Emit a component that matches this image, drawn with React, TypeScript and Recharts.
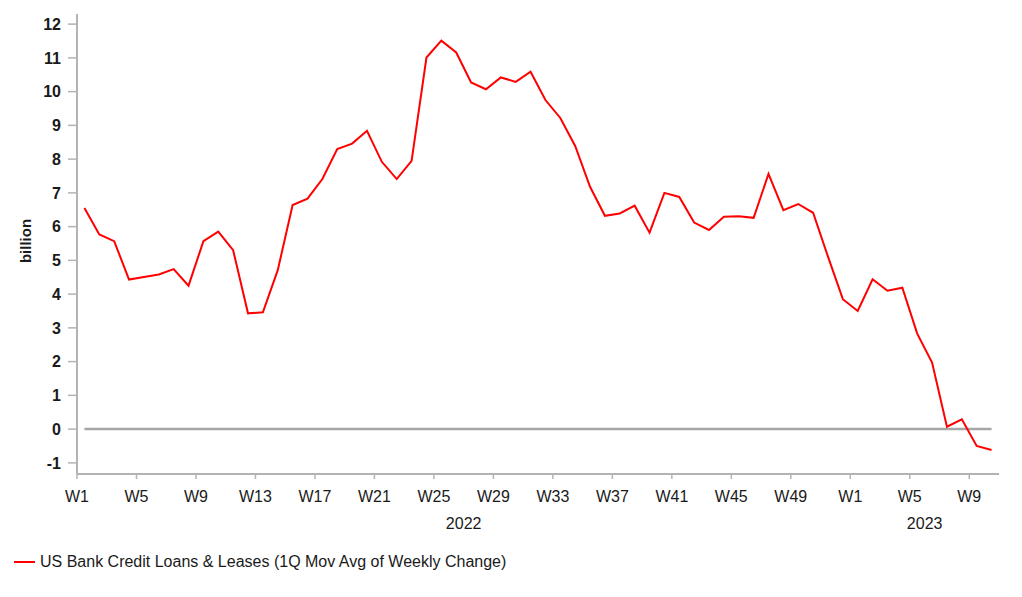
import React from 'react';
import { LineChart, Line, XAxis, YAxis, ReferenceLine, Legend } from 'recharts';

const weeks2022 = [
  'W1','W2','W3','W4','W5','W6','W7','W8','W9','W10','W11','W12','W13','W14','W15','W16','W17','W18',
  'W19','W20','W21','W22','W23','W24','W25','W26','W27','W28','W29','W30','W31','W32','W33','W34','W35',
  'W36','W37','W38','W39','W40','W41','W42','W43','W44','W45','W46','W47','W48','W49','W50','W51','W52',
];
const weeks2023 = ['W1','W2','W3','W4','W5','W6','W7','W8','W9','W10'];

const loansChange = [
  6.55, 5.77, 5.57, 4.43, 4.51, 4.58, 4.74, 4.25, 5.57, 5.85,
  5.30, 3.43, 3.46, 4.71, 6.64, 6.83, 7.41, 8.30, 8.46, 8.84,
  7.92, 7.41, 7.95, 11.01, 11.51, 11.16, 10.27, 10.07, 10.42, 10.29,
  10.59, 9.75, 9.22, 8.39, 7.18, 6.32, 6.39, 6.62, 5.82, 7.00,
  6.88, 6.12, 5.90, 6.29, 6.31, 6.26, 7.56, 6.49, 6.67, 6.41,
  5.11, 3.85, 3.50, 4.44, 4.10, 4.19, 2.83, 1.97, 0.07, 0.29,
  -0.50, -0.62,
];

const yTicks = [-1, 0, 1, 2, 3, 4, 5, 6, 7, 8, 9, 10, 11, 12];
const years = ['2022', '2023'];
const seriesName = 'US Bank Credit Loans & Leases (1Q Mov Avg of Weekly Change)';
const yAxisTitle = 'billion';

const categories = [...weeks2022, ...weeks2023];
const data = categories.map((w, i) => ({ idx: i + 1, week: w, value: loansChange[i] }));

// tick at the left edge of every 4th week (W1, W5, W9, ...)
const weekTicks = categories
  .map((w, i) => ({ w, pos: i + 0.5 }))
  .filter((d) => parseInt(d.w.slice(1), 10) % 4 === 1)
  .map((d) => d.pos);

const yearGroups = [weeks2022, weeks2023];
const yearTicks: number[] = [];
{
  let start = 0.5;
  yearGroups.forEach((g) => {
    yearTicks.push(start + g.length / 2);
    start += g.length;
  });
}

const FONT = '"Liberation Sans", Arial, sans-serif';
const AXIS = '#b3b3b3';
const TEXT = '#1a1a1a';

const LegendContent = () => (
  <div style={{ display: 'flex', alignItems: 'center', fontFamily: FONT, fontSize: 16, color: TEXT, height: 40 }}>
    <svg width={26} height={10} style={{ marginRight: 0 }}>
      <line x1={0} y1={5} x2={21} y2={5} stroke="#ff0000" strokeWidth={2} />
    </svg>
    <span>{seriesName}</span>
  </div>
);

export default function App() {
  return (
    <div style={{ position: 'absolute', left: 0, top: 0, width: 1022, height: 597, background: '#fff' }}>
      <LineChart
        width={1022}
        height={597}
        data={data}
        margin={{ top: 14, right: 23, bottom: 15, left: 27 }}
      >
        <XAxis
          dataKey="idx"
          type="number"
          domain={[0.5, categories.length + 0.5]}
          ticks={weekTicks}
          interval={0}
          tickFormatter={(v: number) => categories[Math.round(v - 0.5)]}
          height={34}
          stroke={AXIS}
          axisLine={{ stroke: AXIS, strokeWidth: 2 }}
          tickLine={{ stroke: AXIS, strokeWidth: 1.5 }}
          tickSize={5}
          tickMargin={12}
          tick={{ fill: TEXT, fontSize: 16, fontFamily: FONT }}
          allowDataOverflow
        />
        <XAxis
          xAxisId="year"
          dataKey="idx"
          type="number"
          domain={[0.5, categories.length + 0.5]}
          ticks={yearTicks}
          interval={0}
          tickFormatter={(v: number) => years[yearTicks.indexOf(v)]}
          height={34}
          axisLine={false}
          tickLine={false}
          tickSize={0}
          tickMargin={10}
          tick={{ fill: TEXT, fontSize: 16, fontFamily: FONT }}
        />
        <YAxis
          type="number"
          domain={[-1.33, 12.3]}
          ticks={yTicks}
          interval={0}
          width={50}
          axisLine={{ stroke: AXIS, strokeWidth: 2 }}
          tickLine={{ stroke: AXIS, strokeWidth: 1.5 }}
          tickSize={9}
          tickMargin={7}
          tick={{ fill: TEXT, fontSize: 16, fontFamily: FONT, fontWeight: 'bold' }}
          allowDataOverflow
          label={{
            content: (props: any) => {
              const vb = props.viewBox || { x: 27, y: 14, width: 50, height: 460 };
              const cx = vb.x - 2;
              const cy = vb.y + vb.height / 2 - 3;
              return (
                <text
                  x={cx}
                  y={cy}
                  transform={`rotate(-90 ${cx} ${cy})`}
                  textAnchor="middle"
                  dominantBaseline="central"
                  fontFamily={FONT}
                  fontSize={15}
                  fontWeight="bold"
                  fill={TEXT}
                >
                  {yAxisTitle}
                </text>
              );
            },
          }}
        />
        <ReferenceLine
          segment={[
            { x: 1, y: 0 },
            { x: categories.length, y: 0 },
          ]}
          stroke="#a6a6a6"
          strokeWidth={2.5}
          ifOverflow="visible"
        />
        <Line
          type="linear"
          dataKey="value"
          name={seriesName}
          stroke="#ff0000"
          strokeWidth={2}
          dot={false}
          activeDot={false}
          isAnimationActive={false}
        />
        <Legend
          verticalAlign="bottom"
          align="left"
          height={40}
          content={<LegendContent />}
          wrapperStyle={{ left: 14 }}
        />
      </LineChart>
    </div>
  );
}
